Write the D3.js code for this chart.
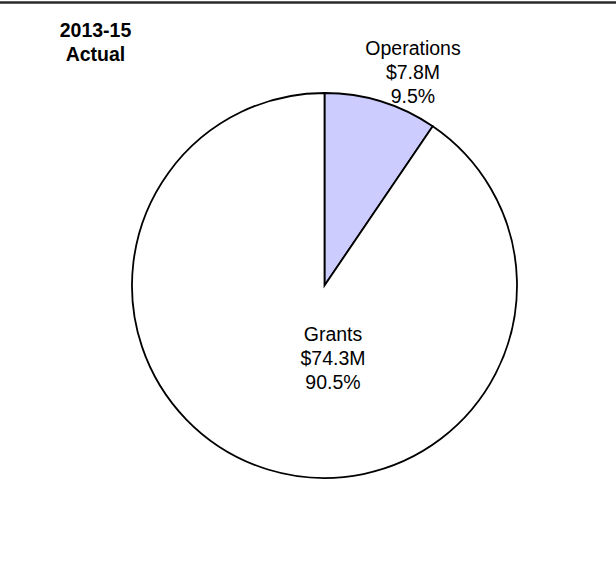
<!DOCTYPE html>
<html>
<head>
<meta charset="utf-8">
<script src="https://cdn.jsdelivr.net/npm/d3@7"></script>
<style>
  html, body { margin: 0; padding: 0; background: #fff; }
  svg { display: block; font-family: "Liberation Sans", Arial, sans-serif; }
</style>
</head>
<body>
<svg id="chart" width="616" height="561"></svg>
<script>
// Budget split, 2013-15 actual ($ millions)
const categories = ["Operations", "Grants"];
const amounts = [7.8, 74.3];
const amountLabels = ["$7.8M", "$74.3M"];
const percentLabels = ["9.5%", "90.5%"];
const sliceColors = ["#ccccff", "#ffffff"];
const titleLines = ["2013-15", "Actual"];

const width = 616, height = 561;
const cx = 324.5, cy = 285.5, radius = 192.5;

const svg = d3.select("#chart");

// rule across the top of the page
svg.append("line")
  .attr("x1", 0).attr("x2", width)
  .attr("y1", 2.5).attr("y2", 2.5)
  .attr("stroke", "#2a2a2a").attr("stroke-width", 2.5);

// title block
svg.append("text")
  .attr("text-anchor", "middle")
  .attr("font-weight", "bold")
  .attr("font-size", 19.5)
  .attr("fill", "#000")
  .selectAll("tspan")
  .data(titleLines)
  .join("tspan")
  .attr("x", 95.5)
  .attr("y", (d, i) => 37 + i * 24)
  .text(d => d);

const pie = d3.pie().sort(null).value(d => d)(amounts);
const arc = d3.arc().innerRadius(0).outerRadius(radius);

const g = svg.append("g").attr("transform", `translate(${cx},${cy})`);

g.selectAll("path")
  .data(pie)
  .join("path")
  .attr("d", arc)
  .attr("fill", (d, i) => sliceColors[i])
  .attr("stroke", "#000")
  .attr("stroke-width", 1.8)
  .attr("stroke-linejoin", "miter");

// data labels: name, amount, share
const labelPos = [
  { x: 413, y: 55 },   // Operations, above the pie
  { x: 333, y: 341 }   // Grants, inside its slice
];

categories.forEach((name, i) => {
  svg.append("text")
    .attr("text-anchor", "middle")
    .attr("font-size", 19.5)
    .attr("fill", "#000")
    .selectAll("tspan")
    .data([name, amountLabels[i], percentLabels[i]])
    .join("tspan")
    .attr("x", labelPos[i].x)
    .attr("y", (d, j) => labelPos[i].y + j * 24)
    .text(d => d);
});
</script>
</body>
</html>
